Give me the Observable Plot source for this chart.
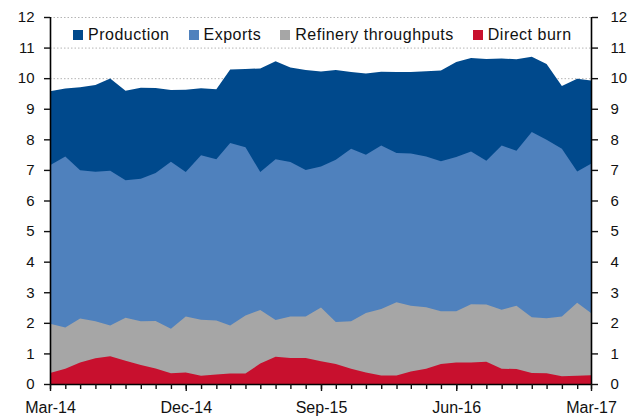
<!DOCTYPE html>
<html><head><meta charset="utf-8">
<script src="https://cdn.jsdelivr.net/npm/d3@7"></script>
<script src="https://cdn.jsdelivr.net/npm/@observablehq/plot@0.6"></script>
<style>
body{margin:0;background:#fff;font-family:"Liberation Sans",Arial,sans-serif;}
#wrap{position:relative;width:632px;height:417px;}
#legend{position:absolute;left:73px;top:26px;display:flex;font-size:16px;letter-spacing:0.5px;color:#111;}
.item{display:flex;align-items:center;margin-right:19px}
.sw{width:10px;height:10px;margin-right:5px;flex:none}
</style></head><body><div id="wrap"><div id="legend"></div></div>
<script>
const names = ["Production","Exports","Refinery throughputs","Direct burn"];
const colors = ["#00498C","#4F81BD","#A6A6A6","#C8102E"];
const tickLabels = ["Mar-14","Dec-14","Sep-15","Jun-16","Mar-17"];
const yTicks = [0,1,2,3,4,5,6,7,8,9,10,11,12];

const production = [9.57,9.66,9.70,9.78,9.99,9.59,9.69,9.68,9.61,9.62,9.67,9.64,10.28,10.30,10.32,10.55,10.35,10.27,10.22,10.27,10.20,10.15,10.21,10.20,10.20,10.23,10.25,10.53,10.66,10.63,10.64,10.62,10.70,10.46,9.74,9.98,9.92];
const exportsV = [7.15,7.44,6.99,6.94,6.97,6.66,6.71,6.90,7.27,6.93,7.48,7.35,7.88,7.74,6.93,7.35,7.26,7.00,7.11,7.33,7.69,7.50,7.80,7.55,7.54,7.44,7.28,7.42,7.60,7.30,7.80,7.63,8.24,7.99,7.69,6.95,7.20];
const refinery = [1.97,1.85,2.14,2.05,1.91,2.17,2.05,2.06,1.81,2.21,2.10,2.08,1.91,2.24,2.42,2.09,2.21,2.21,2.50,2.03,2.05,2.32,2.45,2.67,2.56,2.51,2.38,2.38,2.61,2.60,2.43,2.56,2.18,2.15,2.21,2.66,2.32];
const directBurn = [0.36,0.50,0.70,0.84,0.91,0.76,0.62,0.51,0.35,0.38,0.27,0.31,0.34,0.34,0.67,0.89,0.85,0.85,0.74,0.65,0.50,0.38,0.28,0.28,0.41,0.50,0.65,0.70,0.70,0.73,0.50,0.49,0.36,0.35,0.25,0.27,0.29];

const seriesValues = [production, exportsV, refinery, directBurn];
const parse = d3.utcParse("%b-%y");
const fmt = d3.utcFormat("%b-%y");
const labelDates = tickLabels.map(parse);
const months = d3.utcMonth.range(labelDates[0], d3.utcMonth.offset(labelDates[labelDates.length-1], 1));

const rows = names.flatMap((n, k) => seriesValues[k].map((v, i) => ({date: months[i], value: v, name: n})));

const legend = document.getElementById("legend");
names.forEach((n, k) => {
  const it = document.createElement("div"); it.className = "item";
  const sw = document.createElement("div"); sw.className = "sw"; sw.style.background = colors[k];
  const tx = document.createElement("span"); tx.textContent = n;
  it.append(sw, tx); legend.append(it);
});

const chart = Plot.plot({
  width: 632, height: 417,
  marginLeft: 50, marginRight: 41, marginTop: 17, marginBottom: 33,
  style: {fontFamily: '"Liberation Sans",Arial,sans-serif', fontSize: "15px", color: "#111", background: "#fff"},
  x: {type: "utc", domain: [months[0], months[months.length-1]]},
  y: {domain: [0, 12]},
  marks: [
    Plot.gridY(yTicks, {stroke: "#b5b5b5", strokeOpacity: 1, strokeDasharray: "1.5,2"}),
    ...names.map((n, k) => Plot.areaY(rows.filter(d => d.name === n), {x: "date", y: "value", fill: colors[k], curve: "linear"})),
    Plot.ruleX([months[0], months[months.length-1]], {stroke: "#000", strokeWidth: 1.6}),
    Plot.ruleY([0], {stroke: "#000", strokeWidth: 1.6}),
    Plot.axisX(months, {tickSize: 5, tickFormat: () => "", label: null, strokeWidth: 1.4}),
    Plot.axisX(labelDates, {tickSize: 7, tickPadding: 10, tickFormat: fmt, label: null, fontSize: 16, strokeWidth: 1.4, style: "letter-spacing:1.2px"}),
    Plot.axisY(yTicks, {anchor: "left", tickSize: 6, tickPadding: 10, label: null, strokeWidth: 1.4, style: "letter-spacing:2px"}),
    Plot.axisY(yTicks, {anchor: "right", tickSize: 6, tickPadding: 13, label: null, strokeWidth: 1.4, style: "letter-spacing:2px"})
  ]
});
chart.style.position = "absolute"; chart.style.left = "0"; chart.style.top = "0";
document.getElementById("wrap").prepend(chart);
</script>
</body></html>
